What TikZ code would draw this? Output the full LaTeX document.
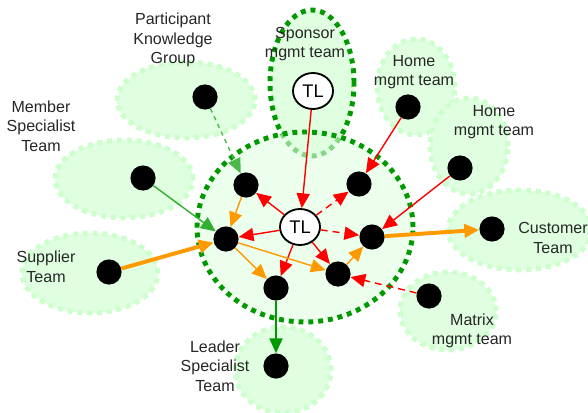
\documentclass[tikz,border=0pt]{standalone}
\usepackage{fontspec}
\setmainfont{Liberation Sans}
\usepackage{tikz}
\usetikzlibrary{shapes.geometric, arrows.meta}

\definecolor{teamfill}{RGB}{224, 255, 224}
\definecolor{teamline}{RGB}{204, 255, 204}
\definecolor{coregreen}{RGB}{0, 153, 0}
\definecolor{flowred}{RGB}{255, 0, 0}
\definecolor{floworange}{RGB}{255, 153, 0}

\begin{document}
\begin{tikzpicture}[
      team/.style={ellipse, fill=teamfill, draw=teamline, line width=3.5pt,
                   dash pattern=on 3.5pt off 3.5pt, inner sep=0pt},
      core/.style={ellipse, draw=coregreen, line width=3.5pt,
                   dash pattern=on 3.5pt off 3.5pt, inner sep=0pt},
      member/.style={circle, fill=black, minimum size=0.63cm, inner sep=0pt},
      lead/.style={ellipse, draw=black, fill=white, line width=1.3pt,
                   minimum width=1cm, minimum height=0.9cm, inner sep=0pt,
                   font=\fontsize{13}{15}\selectfont},
      label/.style={align=center, font=\fontsize{11.4}{13.9}\selectfont, text=black!85},
      tip/.style={-{Triangle[length=0.37cm, width=0.33cm]}},
      redline/.style={tip, flowred, line width=1pt},
      reddash/.style={redline, dash pattern=on 5pt off 3.5pt},
      orangeline/.style={tip, floworange, line width=1pt},
      orangethick/.style={tip, floworange, line width=2.8pt},
      greenline/.style={tip, coregreen, line width=1pt}
    ]
      \useasboundingbox (0,0) rectangle (14.7,10.3);

      % Teams around the core
      \node[team, minimum width=3.45cm, minimum height=1.9cm] (pkgArea) at (4.65,7.8) {};
      \node[team, minimum width=3.45cm, minimum height=1.95cm] (memberArea) at (3.1,5.825) {};
      \node[team, minimum width=3.4cm, minimum height=2cm] (supplierArea) at (2.25,3.475) {};
      \node[team, minimum width=2.4cm, minimum height=2.15cm] (leaderArea) at (7.075,1.05) {};
      \node[team, minimum width=1.95cm, minimum height=2.4cm] (homeAArea) at (10.4,8.125) {};
      \node[team, minimum width=1.95cm, minimum height=2.4cm] (homeBArea) at (11.725,6.65) {};
      \node[team, minimum width=3.6cm, minimum height=2cm] (customerArea) at (13,4.55) {};
      \node[team, minimum width=2.4cm, minimum height=1.95cm] (matrixArea) at (11.2,2.525) {};

      % Sponsor team and core team
      \node[core, fill=teamfill, minimum width=2.1cm, minimum height=3.65cm] (sponsorArea) at (7.8,8.225) {};
      \node[ellipse, fill=teamfill, fill opacity=0.6, minimum width=5.4cm, minimum height=4.75cm] (coreFill) at (7.625,4.625) {};
      \node[core, minimum width=5.4cm, minimum height=4.75cm] (coreArea) at (7.625,4.625) {};

      % Labels
      \node[label] (pkgText) at (4.325,9.3) {Participant\\Knowledge\\Group};
      \node[label] (memberText) at (1.025,7.15) {Member\\Specialist\\Team};
      \node[label] (supplierText) at (1.15,3.625) {Supplier\\Team};
      \node[label] (leaderText) at (5.375,1.15) {Leader\\Specialist\\Team};
      \node[label] (sponsorText) at (7.625,9.2) {Sponsor\\mgmt team};
      \node[label] (homeAText) at (10.35,8.5) {Home\\mgmt team};
      \node[label] (homeBText) at (12.35,7.25) {Home\\mgmt team};
      \node[label] (customerText) at (13.825,4.35) {Customer\\Team};
      \node[label] (matrixText) at (11.8,2.025) {Matrix\\mgmt team};

      % People
      \node[member] (pkg) at (5.125,7.875) {};
      \node[member] (spec) at (3.575,5.85) {};
      \node[member] (supplier) at (2.725,3.5) {};
      \node[member] (leader) at (6.9,1.15) {};
      \node[member] (homeA) at (10.2,7.625) {};
      \node[member] (homeB) at (11.5,6.1) {};
      \node[member] (customer) at (12.3,4.575) {};
      \node[member] (matrix) at (10.725,2.9) {};
      \node[lead] (sponsorTL) at (7.825,8.025) {TL};

      \node[lead] (tl) at (7.5,4.625) {TL};
      \node[member] (a) at (6.15,5.675) {};
      \node[member] (b) at (8.975,5.7) {};
      \node[member] (c) at (5.65,4.325) {};
      \node[member] (d) at (9.3,4.375) {};
      \node[member] (e) at (6.9,3.1) {};
      \node[member] (f) at (8.45,3.45) {};

      % Links into the core
      \draw[greenline, dashed, coregreen!70] (pkg) -- (a);
      \draw[greenline, coregreen!80] (spec) -- (c);
      \draw[orangethick] (supplier) -- (c);
      \draw[redline] (sponsorTL) -- (tl);
      \draw[redline] (homeA) -- (b);
      \draw[redline] (homeB) -- (d);
      \draw[reddash] (matrix) -- (f);

      % Team leader links
      \draw[redline] (tl) -- (a);
      \draw[reddash] (tl) -- (b);
      \draw[redline] (tl) -- (c);
      \draw[reddash] (tl) -- (d);
      \draw[redline] (tl) -- (e);
      \draw[redline] (tl) -- (f);

      % Work flow
      \draw[orangeline] (a) -- (c);
      \draw[orangeline] (c) -- (e);
      \draw[orangeline] (c) -- (f);
      \draw[orangeline] (f) -- (d);
      \draw[orangethick] (d) -- (customer);
      \draw[greenline] (e) -- (leader);
    \end{tikzpicture}
\end{document}
